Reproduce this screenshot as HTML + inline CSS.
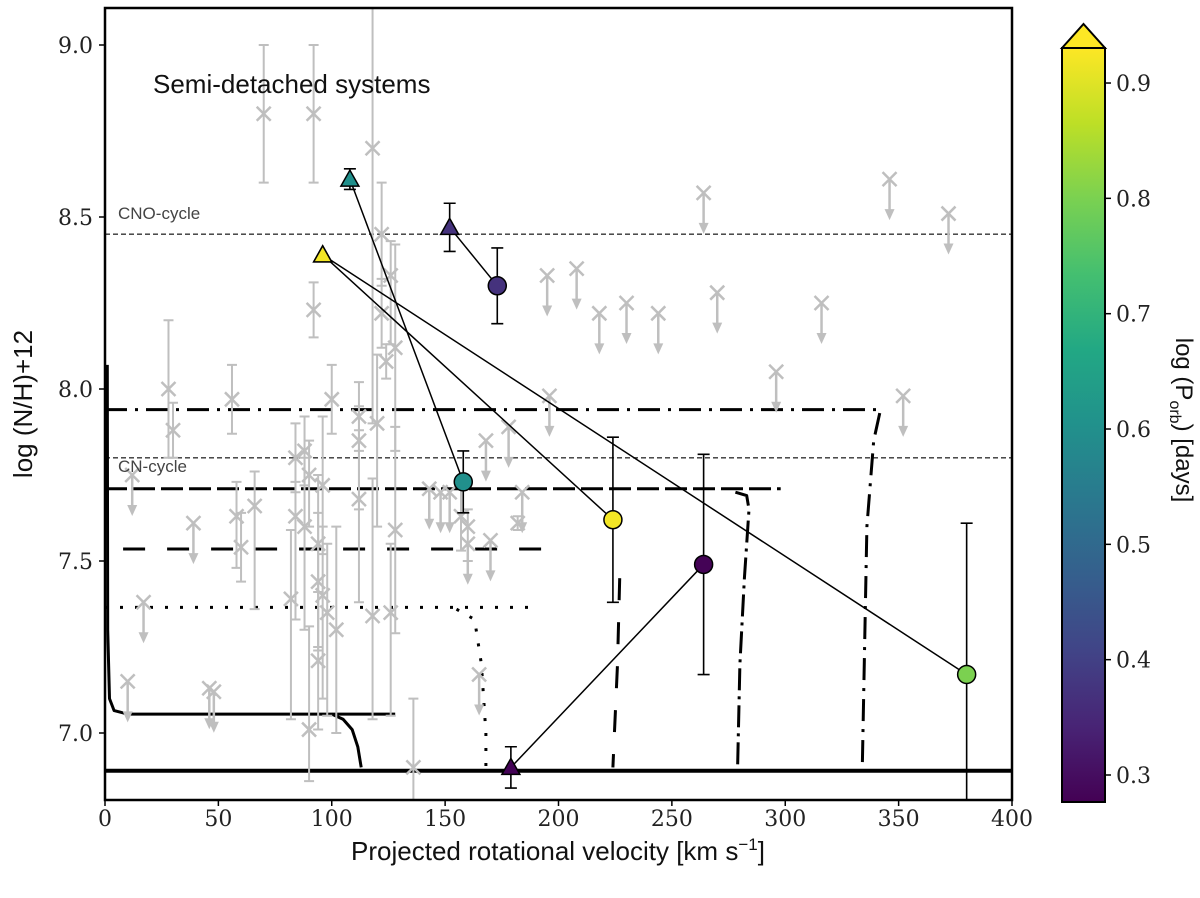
<!DOCTYPE html>
<html><head><meta charset="utf-8">
<style>
html,body{margin:0;padding:0;background:#fff;}
svg{display:block;font-family:"DejaVu Serif","Liberation Serif",serif;}
.tk{font-size:22px;fill:#222;}
</style></head>
<body>
<svg id="chart" width="1200" height="898" viewBox="0 0 1200 898" xmlns="http://www.w3.org/2000/svg">
<defs>
<linearGradient id="viridis" x1="0" y1="1" x2="0" y2="0">
<stop offset="0" stop-color="#440154"/><stop offset="0.1" stop-color="#482475"/>
<stop offset="0.2" stop-color="#414487"/><stop offset="0.3" stop-color="#355f8d"/>
<stop offset="0.4" stop-color="#2a788e"/><stop offset="0.5" stop-color="#21918c"/>
<stop offset="0.6" stop-color="#22a884"/><stop offset="0.7" stop-color="#44bf70"/>
<stop offset="0.8" stop-color="#7ad151"/><stop offset="0.9" stop-color="#bddf26"/>
<stop offset="1" stop-color="#fde725"/>
</linearGradient>
<clipPath id="clip"><rect x="105" y="8" width="907" height="792"/></clipPath>
</defs>
<g id="plot" clip-path="url(#clip)"></g>
<rect x="105" y="8" width="907" height="792" fill="none" stroke="#000" stroke-width="2.5"/>
<g id="axes"></g>
<text x="153" y="93" font-family="Liberation Sans, sans-serif" font-size="26" fill="#111">Semi-detached systems</text>
<text x="118" y="219" font-family="Liberation Sans, sans-serif" font-size="17" fill="#444">CNO-cycle</text>
<text x="118" y="472" font-family="Liberation Sans, sans-serif" font-size="17" fill="#444">CN-cycle</text>
<text transform="translate(32,404) rotate(-90)" text-anchor="middle" font-family="Liberation Sans, sans-serif" font-size="26" fill="#111">log (N/H)+12</text>
<text x="558" y="860" text-anchor="middle" font-family="Liberation Sans, sans-serif" font-size="26" fill="#111">Projected rotational velocity [km s<tspan dy="-10" font-size="17">−1</tspan><tspan dy="10">]</tspan></text>
<g>
<rect x="1062" y="48" width="43" height="754" fill="url(#viridis)"/>
<polygon points="1062,48 1083.5,24 1105,48" fill="#fde725" stroke="#000" stroke-width="2"/>
<rect x="1062" y="48" width="43" height="754" fill="none" stroke="#000" stroke-width="2"/>
<g id="cbticks"></g>
<text transform="translate(1176,420) rotate(90)" text-anchor="middle" font-family="Liberation Sans, sans-serif" font-size="24" fill="#111">log (P<tspan dy="6" font-size="16">orb</tspan><tspan dy="-6">) [days]</tspan></text>
</g>
</svg>
<script>
const NS="http://www.w3.org/2000/svg";
const xTicks=[0,50,100,150,200,250,300,350,400];
const yTicks=[7.0,7.5,8.0,8.5,9.0];
const yTickLabels=["7.0","7.5","8.0","8.5","9.0"];
const cbTicks=[0.3,0.4,0.5,0.6,0.7,0.8,0.9];
// gray literature points: x, y, errLow, errHigh
const grayX=[70,92,92,118,122,126,122,128,28,56,100,124,112,112,120,88,84,90,96,66,58,84,88,94,60,112,128,82,94,96,98,102,118,126,94,90,136,182,160,157,30];
const grayY=[8.80,8.80,8.23,8.70,8.45,8.33,8.22,8.12,8.00,7.97,7.97,8.08,7.92,7.85,7.90,7.82,7.80,7.75,7.72,7.66,7.63,7.63,7.60,7.55,7.54,7.68,7.59,7.39,7.44,7.40,7.35,7.30,7.34,7.35,7.21,7.01,6.90,7.61,7.60,7.63,7.88];
const grayLo=[0.2,0.2,0.08,0.8,0.15,0.2,0.1,0.3,0.2,0.1,0.1,0.05,0.1,0.2,0.3,0.1,0.1,0.15,0.2,0.3,0.15,0.3,0.3,0.3,0.1,0.3,0.3,0.35,0.2,0.3,0.3,0.3,0.3,0.3,0.2,0.15,0.2,0.02,0.1,0.1,0.08];
const grayHi=[0.2,0.2,0.08,0.5,0.15,0.1,0.1,0.3,0.2,0.1,0.1,0.05,0.1,0.1,0.2,0.1,0.1,0.1,0.2,0.1,0.1,0.1,0.2,0.2,0.1,0.2,0.3,0.2,0.2,0.2,0.2,0.3,0.4,0.2,0.2,0.3,0.2,0.02,0.05,0.1,0.08];
// gray upper limits
const limX=[12,17,39,10,46,48,143,148,152,160,168,170,178,184,165,196,195,208,218,230,244,264,270,296,316,346,352,372];
const limY=[7.75,7.38,7.61,7.15,7.13,7.12,7.71,7.70,7.70,7.55,7.85,7.56,7.89,7.70,7.17,7.98,8.33,8.35,8.22,8.25,8.22,8.57,8.28,8.05,8.25,8.61,7.98,8.51];
// binary systems: triangle (primary) -> circle (secondary)
const triX=[108,152,96,96,179];
const triY=[8.61,8.47,8.39,8.39,6.90];
const triErr=[0.03,0.07,0.0,0.0,0.06];
const triP=[0.60,0.37,0.92,0.92,0.28];
const cirX=[158,173,224,380,264];
const cirY=[7.73,8.30,7.62,7.17,7.49];
const cirErr=[0.09,0.11,0.24,0.44,0.32];
const logP=[0.60,0.37,0.92,0.80,0.28];

const X=v=>105+v*907/400;
const Y=v=>733-(v-7.0)*344;
const cbY=v=>775-(v-0.3)*1153.3;
function mk(tag,attrs,parent,name,inter){const e=document.createElementNS(NS,tag);for(const k in attrs)e.setAttribute(k,attrs[k]);parent.appendChild(e);return e;}
const plot=document.getElementById('plot'),axes=document.getElementById('axes'),cbt=document.getElementById('cbticks');
const vir=["#440154","#482475","#414487","#355f8d","#2a788e","#21918c","#22a884","#44bf70","#7ad151","#bddf26","#fde725"];
function hex(h){return [1,3,5].map(i=>parseInt(h.substr(i,2),16));}
function cmap(v){let t=(v-0.276)/(0.93-0.276);t=Math.max(0,Math.min(1,t))*10;const i=Math.min(9,Math.floor(t)),f=t-i;const a=hex(vir[i]),b=hex(vir[i+1]);return 'rgb('+a.map((c,k)=>Math.round(c+(b[k]-c)*f)).join(',')+')';}

mk('line',{x1:105,x2:1012,y1:Y(8.45),y2:Y(8.45),stroke:'#333','stroke-width':1.3,'stroke-dasharray':'5,3'},plot,'cno-cycle-line');
mk('line',{x1:105,x2:1012,y1:Y(7.80),y2:Y(7.80),stroke:'#333','stroke-width':1.3,'stroke-dasharray':'5,3'},plot,'cn-cycle-line');

function track(pts,dash,w,name){const d=pts.map((p,i)=>(i?'L':'M')+X(p[0]).toFixed(1)+','+Y(p[1]).toFixed(1)).join(' ');mk('path',{d:d,fill:'none',stroke:'#000','stroke-width':w,'stroke-dasharray':dash||'','stroke-linejoin':'round'},plot,name);}
track([[0,6.89],[400,6.89]],'',4,'track-solid-base');
track([[1,8.07],[1.2,7.3],[2,7.10],[4,7.065],[10,7.055],[128,7.055]],'',3,'track-solid');
track([[100,7.055],[105,7.04],[109,7.01],[111.5,6.96],[113,6.90]],'',3,'track-solid-curve');
track([[0,7.71],[298,7.71]],'22,6',3,'track-long-dashed');
track([[278,7.70],[283,7.69],[284,7.65],[282,7.45],[280,7.2],[279,6.90]],'22,6,3,6',3,'track-long-dashed-curve');
track([[8,7.535],[200,7.535]],'22,22',3,'track-dashed');
track([[227,7.45],[226,7.2],[224,6.90]],'22,22',3,'track-dashed-curve');
track([[0,7.365],[190,7.365]],'3,12',3,'track-dotted');
track([[155,7.36],[163,7.33],[166,7.2],[168,7.0],[168,6.90]],'3,12',3,'track-dotted-curve');
track([[0,7.94],[342,7.94],[339,7.85],[336,7.6],[334,6.90]],'22,8,3,8',3,'track-dash-dot');

const gc='#bfbfbf';
function cross(x,y,name){const g=mk('g',{},plot,name);mk('path',{d:`M${x-7},${y-7}L${x+7},${y+7}M${x-7},${y+7}L${x+7},${y-7}`,stroke:gc,'stroke-width':2.5,fill:'none'},g,'cross-marker');return g;}
grayX.forEach((v,i)=>{const x=X(v),y=Y(grayY[i]),y1=Y(grayY[i]-grayLo[i]),y2=Y(grayY[i]+grayHi[i]);
 const g=cross(x,y,'literature-point');
 mk('path',{d:`M${x},${y1}L${x},${y2}M${x-5},${y1}L${x+5},${y1}M${x-5},${y2}L${x+5},${y2}`,stroke:gc,'stroke-width':2,fill:'none'},g,'literature-errorbar');});
limX.forEach((v,i)=>{const x=X(v),y=Y(limY[i]);const g=cross(x,y,'upper-limit-point');
 mk('line',{x1:x,x2:x,y1:y,y2:y+32,stroke:gc,'stroke-width':2.5},g,'upper-limit-shaft');
 mk('polygon',{points:`${x-5},${y+30} ${x+5},${y+30} ${x},${y+41}`,fill:gc},g,'upper-limit-arrow');});

triX.forEach((v,i)=>{mk('line',{x1:X(v),y1:Y(triY[i]),x2:X(cirX[i]),y2:Y(cirY[i]),stroke:'#000','stroke-width':1.5},plot,'system-connector');});
function ebar(x,yv,e,name){if(!e)return;const y1=Y(yv-e),y2=Y(yv+e);mk('path',{d:`M${x},${y1}L${x},${y2}M${x-6},${y1}L${x+6},${y1}M${x-6},${y2}L${x+6},${y2}`,stroke:'#000','stroke-width':1.6,fill:'none'},plot,name);}
cirX.forEach((v,i)=>{ebar(X(v),cirY[i],cirErr[i],'secondary-errorbar');});
triX.forEach((v,i)=>{ebar(X(v),triY[i],triErr[i],'primary-errorbar');});
cirX.forEach((v,i)=>{mk('circle',{cx:X(v),cy:Y(cirY[i]),r:9,fill:cmap(logP[i]),stroke:'#000','stroke-width':1.5},plot,'secondary-star-marker');});
triX.forEach((v,i)=>{const x=X(v),y=Y(triY[i]);mk('polygon',{points:`${x-9},${y+7} ${x+9},${y+7} ${x},${y-9}`,fill:cmap(triP[i]),stroke:'#000','stroke-width':1.5},plot,'primary-star-marker');});

xTicks.forEach(v=>{const x=X(v);mk('line',{x1:x,x2:x,y1:800,y2:806,stroke:'#000','stroke-width':1.5},axes,'x-tick');
 const t=mk('text',{x:x,y:826,'text-anchor':'middle',class:'tk'},axes,'x-tick-label');t.textContent=v;});
yTicks.forEach((v,i)=>{const y=Y(v);mk('line',{x1:99,x2:105,y1:y,y2:y,stroke:'#000','stroke-width':1.5},axes,'y-tick');
 const t=mk('text',{x:93,y:y+8,'text-anchor':'end',class:'tk'},axes,'y-tick-label');t.textContent=yTickLabels[i];});
cbTicks.forEach(v=>{const y=cbY(v);mk('line',{x1:1105,x2:1111,y1:y,y2:y,stroke:'#000','stroke-width':1.5},cbt,'colorbar-tick');
 const t=mk('text',{x:1116,y:y+8,class:'tk'},cbt,'colorbar-tick-label');t.textContent=v.toFixed(1);});
</script>
</body></html>
